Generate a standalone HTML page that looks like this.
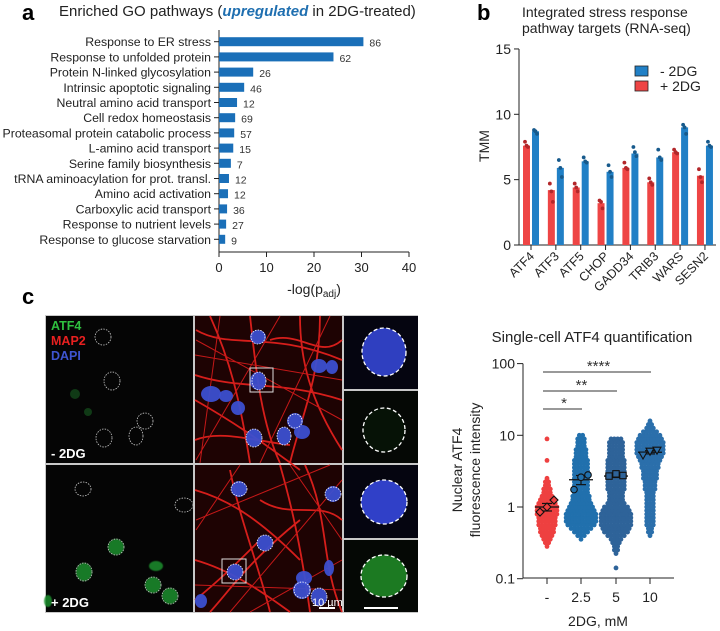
<!DOCTYPE html>
<html><head><meta charset="utf-8"><style>
html,body{margin:0;padding:0;background:#fff}
svg{display:block;font-family:"Liberation Sans",Arial,sans-serif}
</style></head><body>
<svg id="fig" width="720" height="631" viewBox="0 0 720 631" xmlns="http://www.w3.org/2000/svg">
<defs>
<filter id="blur1" x="-20%" y="-20%" width="140%" height="140%"><feGaussianBlur stdDeviation="0.6"/></filter>
</defs>
<text x="22" y="20" font-size="22" font-weight="bold">a</text>
<text x="477" y="20" font-size="22" font-weight="bold">b</text>
<text x="22" y="304" font-size="22" font-weight="bold">c</text>

<text x="59" y="16" font-size="15" fill="#222">Enriched GO pathways (<tspan font-weight="bold" font-style="italic" fill="#1f6fb0">upregulated</tspan> in 2DG-treated)</text>
<g id="panelA"></g>

<text x="522" y="17" font-size="14" fill="#222">Integrated stress response</text>
<text x="522" y="33" font-size="14" fill="#222">pathway targets (RNA-seq)</text>
<g id="panelB"></g>

<g id="micro"></g>

<text x="592" y="342" font-size="15" fill="#222" text-anchor="middle">Single-cell ATF4 quantification</text>
<g id="panelC"></g>
</svg>
<script>
const NS="http://www.w3.org/2000/svg";
function mk(parent,tag,attrs,text){const e=document.createElementNS(NS,tag);for(const k in attrs)e.setAttribute(k,attrs[k]);if(text!==undefined)e.textContent=text;parent.appendChild(e);return e;}

/* ---------- Panel A data ---------- */
const goTerms=["Response to ER stress","Response to unfolded protein","Protein N-linked glycosylation","Intrinsic apoptotic signaling","Neutral amino acid transport","Cell redox homeostasis","Proteasomal protein catabolic process","L-amino acid transport","Serine family biosynthesis","tRNA aminoacylation for prot. transl.","Amino acid activation","Carboxylic acid transport","Response to nutrient levels","Response to glucose starvation"];
const goValues=[30.4,24.1,7.2,5.3,3.8,3.4,3.2,3.0,2.5,2.1,1.9,1.7,1.5,1.3];
const goCounts=[86,62,26,46,12,69,57,15,7,12,12,36,27,9];
const goTicks=[0,10,20,30,40];

/* ---------- Panel B data ---------- */
const isrGenes=["ATF4","ATF3","ATF5","CHOP","GADD34","TRIB3","WARS","SESN2"];
const isrPlus=[7.6,4.2,4.4,3.2,5.9,4.8,7.1,5.3];
const isrMinus=[8.7,5.9,6.4,5.6,7.0,6.7,9.0,7.6];
const isrPlusReps=[[7.9,7.6,7.5],[4.7,4.1,3.3],[4.7,4.4,4.1],[3.4,3.3,2.8],[6.3,5.9,5.8],[5.1,4.8,4.6],[7.3,7.1,7.0],[5.8,5.2,4.8]];
const isrMinusReps=[[8.8,8.7,8.5],[6.5,5.9,5.2],[6.7,6.4,6.3],[6.1,5.6,5.2],[7.5,7.1,6.8],[7.3,6.7,6.5],[9.2,9.0,8.5],[7.9,7.6,7.5]];
const isrTicks=[0,5,10,15];

/* ---------- Panel C data ---------- */
const doseLabels=["-","2.5","5","10"];
const doseMeans=[1.0,2.4,2.7,5.8];
const doseSem=[0.12,0.35,0.12,0.3];
const repValues=[[0.85,1.0,1.25],[1.75,2.6,2.8],[2.7,2.9,2.75],[5.3,6.0,6.2]];
const swarmCounts=[
 [0,0,0,0,0,0,0,0,0,1,2,3,4,5,5,6,6,6,7,7,7,6,5,4,3,3,2,2,1,0,0,0,0,1,0,0,0,0,0,1,0,0,0,0,0],
 [0,0,0,0,0,0,0,0,0,0,0,1,3,5,7,9,10,10,10,9,8,7,6,6,5,5,5,5,5,5,5,5,5,5,4,4,4,3,3,3,2,0,0,0,0],
 [0,0,0,1,0,0,0,1,2,2,3,4,6,8,9,10,10,10,10,9,8,6,5,5,5,6,6,6,6,6,6,6,6,6,5,5,5,5,5,4,0,0,0,0,0],
 [0,0,0,0,0,0,0,0,0,0,0,0,1,2,2,3,3,3,3,3,3,3,3,3,3,4,4,4,5,5,5,6,6,7,8,9,9,9,9,8,7,5,3,2,1]
];
const yTicksC=[0.1,1,10,100];
const sigPairs=[[0,1,"*"],[0,2,"**"],[0,3,"****"]];

/* ---------- Panel A draw ---------- */
(function(){
 const g=document.getElementById('panelA');
 const x0=219, sx=4.75, y0=41.7, step=15.2, bh=9;
 const X=v=>x0+v*sx;
 mk(g,'line',{x1:x0,y1:30,x2:x0,y2:252,stroke:'#222','stroke-width':1});
 mk(g,'line',{x1:x0,y1:252,x2:X(40),y2:252,stroke:'#222','stroke-width':1});
 goTicks.forEach(t=>{
  mk(g,'line',{x1:X(t),y1:252,x2:X(t),y2:257,stroke:'#222'});
  const tl=mk(g,'text',{x:X(t),y:272,'font-size':13,'text-anchor':'middle',fill:'#222'},String(t));
  
  
 });
 const xt=mk(g,'text',{x:X(20),y:294,'font-size':14,'text-anchor':'middle',fill:'#222'});
 xt.innerHTML='-log(p<tspan font-size="10" dy="3">adj</tspan><tspan dy="-3">)</tspan>';
 
 
 goTerms.forEach((t,i)=>{
  const cy=y0+i*step;
  mk(g,'line',{x1:x0-5,y1:cy,x2:x0,y2:cy,stroke:'#222'});
  const lab=mk(g,'text',{x:x0-8,y:cy+4.5,'font-size':12.3,'text-anchor':'end',fill:'#222'},t);
  
  
  const r=mk(g,'rect',{x:x0,y:cy-bh/2,width:goValues[i]*sx,height:bh,fill:'#1a6fb8'});
  
  
  const c=mk(g,'text',{x:X(goValues[i])+6,y:cy+5,'font-size':10.5,fill:'#333'},String(goCounts[i]));
  
  
 });
})();

/* ---------- Panel B draw ---------- */
(function(){
 const g=document.getElementById('panelB');
 const ax=519, yb=245, sy=13.07, c0=531, gs=24.85;
 const Y=v=>yb-v*sy;
 mk(g,'line',{x1:ax,y1:Y(15),x2:ax,y2:yb,stroke:'#222'});
 mk(g,'line',{x1:ax,y1:yb,x2:716,y2:yb,stroke:'#222'});
 isrTicks.forEach(t=>{
  mk(g,'line',{x1:ax-5,y1:Y(t),x2:ax,y2:Y(t),stroke:'#222'});
  const tl=mk(g,'text',{x:ax-8,y:Y(t)+5,'font-size':14,'text-anchor':'end',fill:'#222'},String(t));
  
  
 });
 const yt=mk(g,'text',{x:0,y:0,'font-size':14,'text-anchor':'middle',fill:'#222',transform:'translate(489,146) rotate(-90)'},'TMM');
 
 
 isrGenes.forEach((gn,i)=>{
  const cx=c0+i*gs;
  mk(g,'line',{x1:cx,y1:yb,x2:cx,y2:yb+5,stroke:'#222'});
  const tl=mk(g,'text',{x:0,y:0,'font-size':12.5,'text-anchor':'end',fill:'#222',transform:`translate(${cx+4},${yb+12}) rotate(-45)`},gn);
  
  
  const rb=mk(g,'rect',{x:cx-8,y:Y(isrPlus[i]),width:7,height:isrPlus[i]*sy,fill:'#ee4545'});
  
  
  const bb=mk(g,'rect',{x:cx+1,y:Y(isrMinus[i]),width:7,height:isrMinus[i]*sy,fill:'#2180c6'});
  
  
  isrPlusReps[i].forEach((v,k)=>{const d=mk(g,'circle',{cx:cx-4.5+(k-1)*1.5,cy:Y(v),r:1.9,fill:'#b3272a'});});
  isrMinusReps[i].forEach((v,k)=>{const d=mk(g,'circle',{cx:cx+4.5+(k-1)*1.5,cy:Y(v),r:1.9,fill:'#175a8c'});});
 });
 const l1=mk(g,'rect',{x:635,y:66,width:13,height:10,fill:'#2180c6',stroke:'#222','stroke-width':0.8});
 
 const t1=mk(g,'text',{x:660,y:76,'font-size':14,fill:'#222'},'- 2DG');
 
 const l2=mk(g,'rect',{x:635,y:81,width:13,height:10,fill:'#ee4545',stroke:'#222','stroke-width':0.8});
 
 const t2=mk(g,'text',{x:660,y:91,'font-size':14,fill:'#222'},'+ 2DG');
 
})();

/* ---------- Microscopy ---------- */
(function(){
 const g=document.getElementById('micro');
 mk(g,'rect',{x:45,y:315,width:373,height:298,fill:'#c8c8c8'});
 const panels=[[46,316,147,147,'#050505'],[46,465,147,147,'#050505'],[195,316,147,147,'#1e0303'],[195,465,147,147,'#1e0303'],[344,316,74,73,'#050510'],[344,391,74,72,'#050805'],[344,465,74,73,'#050510'],[344,540,74,72,'#050805']];
 panels.forEach(p=>mk(g,'rect',{x:p[0],y:p[1],width:p[2],height:p[3],fill:p[4]}));
 const neur=[
  "M195,400 C230,420 260,440 300,470 M196,330 C230,350 270,330 342,360 M250,316 C255,360 260,420 280,463 M300,316 C300,360 310,400 342,450 M195,440 C220,430 250,440 290,445 M320,316 C320,380 300,420 290,463 M210,316 C230,360 240,400 250,463 M195,375 C240,390 280,380 342,400 M270,340 C300,330 320,360 342,340",
  "M195,490 C230,500 260,520 300,560 M230,470 C240,520 260,570 270,612 M305,465 C330,520 320,560 342,612 M195,560 C230,570 260,590 290,612 M260,500 C290,520 320,500 342,520 M195,600 C220,580 240,560 260,540 M280,465 C290,500 300,540 310,612 M210,612 C230,590 250,560 300,520"
 ];
 neur.forEach(d=>{const p=mk(g,'path',{d:d,stroke:'#e0201c','stroke-width':1.8,fill:'none',opacity:0.95});});
 mk(g,'path',{d:"M196,340 L342,420 M196,460 L280,316 M230,612 L342,480 M196,520 L330,465 M220,316 L200,463 M330,316 L260,463 M195,355 L342,380 M240,465 L196,530 M342,560 L250,612 M290,465 L342,540 M195,585 L342,590",stroke:'#c41818','stroke-width':1,fill:'none'});
 const nucBlue=[[258,337,8,7],[258,381,8,9],[211,394,10,8],[226,396,7,6],[238,408,7,7],[319,366,8,7],[332,367,6,7],[295,421,8,8],[254,438,8,9],[284,436,7,9],[302,432,8,7],[239,489,8,8],[333,494,8,8],[265,543,8,8],[235,572,8,8],[304,578,8,7],[302,590,9,9],[319,597,8,9],[329,568,5,8],[201,601,6,7]];
 nucBlue.forEach(n=>mk(g,'ellipse',{cx:n[0],cy:n[1],rx:n[2],ry:n[3],fill:'#3c4fd0',opacity:0.95}));
 const dashedMid=[[258,337,7,7],[259,381,7,9],[295,421,7,7],[254,438,8,9],[284,436,7,9],[239,489,8,7],[333,494,8,7],[265,543,8,8],[235,572,8,8],[302,590,8,8],[319,597,8,9]];
 dashedMid.forEach(n=>mk(g,'ellipse',{cx:n[0],cy:n[1],rx:n[2],ry:n[3],fill:'none',stroke:'#fff','stroke-width':0.8,'stroke-dasharray':'1.5 1.2'}));
 mk(g,'rect',{x:250,y:368,width:23,height:24,fill:'none',stroke:'#ddd','stroke-width':1});
 mk(g,'rect',{x:222,y:559,width:24,height:24,fill:'none',stroke:'#ddd','stroke-width':1});
 const dashedLeft=[[103,337,8,8],[112,381,8,9],[145,421,8,8],[104,438,8,9],[136,436,7,9],[83,489,8,7],[184,505,9,7],[116,547,8,8],[84,572,8,9],[153,585,8,8],[170,596,8,8]];
 [[116,547,8,8],[84,572,8,9],[153,585,8,8],[170,596,8,8],[156,566,7,5],[48,601,4,6]].forEach(n=>mk(g,'ellipse',{cx:n[0],cy:n[1],rx:n[2],ry:n[3],fill:'#1f8f2e',filter:'url(#blur1)',opacity:0.85}));
 [[75,394,5,5],[88,412,4,4]].forEach(n=>mk(g,'ellipse',{cx:n[0],cy:n[1],rx:n[2],ry:n[3],fill:'#103a16'}));
 dashedLeft.forEach(n=>mk(g,'ellipse',{cx:n[0],cy:n[1],rx:n[2],ry:n[3],fill:'none',stroke:'#ccc','stroke-width':0.8,'stroke-dasharray':'1.5 1.2'}));
 const a=mk(g,'text',{x:51,y:330,'font-size':12.5,'font-weight':'bold',fill:'#2fbf3f'},'ATF4');
 const m=mk(g,'text',{x:51,y:345,'font-size':12.5,'font-weight':'bold',fill:'#e82020'},'MAP2');
 const dd=mk(g,'text',{x:51,y:360,'font-size':12.5,'font-weight':'bold',fill:'#3e55d0'},'DAPI');
 const c1=mk(g,'text',{x:51,y:458,'font-size':13,'font-weight':'bold',fill:'#fff'},'- 2DG');
 const c2=mk(g,'text',{x:51,y:607,'font-size':13,'font-weight':'bold',fill:'#fff'},'+ 2DG');
 const sb=mk(g,'text',{x:312,y:606,'font-size':11,fill:'#fff'},'10 µm');
 mk(g,'rect',{x:319,y:607,width:16,height:2,fill:'#fff'});
 mk(g,'ellipse',{cx:384,cy:352,rx:22,ry:24,fill:'#2f3fc0'});
 mk(g,'ellipse',{cx:384,cy:352,rx:22,ry:24,fill:'none',stroke:'#fff','stroke-width':1.3,'stroke-dasharray':'4 2.5'});
 mk(g,'ellipse',{cx:384,cy:430,rx:21,ry:22,fill:'#061206'});
 mk(g,'ellipse',{cx:384,cy:430,rx:21,ry:22,fill:'none',stroke:'#fff','stroke-width':1.3,'stroke-dasharray':'4 2.5'});
 mk(g,'ellipse',{cx:384,cy:502,rx:23,ry:22,fill:'#3040c8'});
 mk(g,'ellipse',{cx:384,cy:502,rx:23,ry:22,fill:'none',stroke:'#fff','stroke-width':1.3,'stroke-dasharray':'4 2.5'});
 mk(g,'ellipse',{cx:384,cy:576,rx:23,ry:21,fill:'#1e7a24',filter:'url(#blur1)'});
 mk(g,'ellipse',{cx:384,cy:576,rx:23,ry:21,fill:'none',stroke:'#fff','stroke-width':1.3,'stroke-dasharray':'4 2.5'});
 mk(g,'rect',{x:364,y:607,width:34,height:2,fill:'#fff'});
})();

/* ---------- Panel C draw ---------- */
(function(){
 const g=document.getElementById('panelC');
 const ax=523, xr=674, yx=578;
 const Y=v=>507-Math.log10(v)*71.7;
 const xs=[547,581,616,650];
 mk(g,'line',{x1:ax,y1:Y(100),x2:ax,y2:yx,stroke:'#222'});
 mk(g,'line',{x1:ax,y1:yx,x2:xr,y2:yx,stroke:'#222'});
 yTicksC.forEach(t=>{
  mk(g,'line',{x1:ax-6,y1:Y(t),x2:ax,y2:Y(t),stroke:'#222'});
  const tl=mk(g,'text',{x:ax-8,y:Y(t)+5,'font-size':14,'text-anchor':'end',fill:'#222'},String(t));
  
  
 });
 const y1=mk(g,'text',{x:0,y:0,'font-size':14,'text-anchor':'middle',fill:'#222',transform:'translate(462,470) rotate(-90)'},'Nuclear ATF4');
 
 const y2=mk(g,'text',{x:0,y:0,'font-size':14,'text-anchor':'middle',fill:'#222',transform:'translate(480,470) rotate(-90)'},'fluorescence intensity');
 
 doseLabels.forEach((l,i)=>{
  mk(g,'line',{x1:xs[i],y1:yx,x2:xs[i],y2:yx+6,stroke:'#222'});
  const tl=mk(g,'text',{x:xs[i],y:602,'font-size':14,'text-anchor':'middle',fill:'#222'},l);
  
  
 });
 const xt=mk(g,'text',{x:598,y:626,'font-size':14,'text-anchor':'middle',fill:'#222'},'2DG, mM');
 
 const cols=['#ee4040','#2170ad','#2e6399','#2b6fab'];
 swarmCounts.forEach((arr,gi)=>{
  arr.forEach((n,bi)=>{
   const v=Math.pow(10,-1+0.05*bi);
   for(let k=0;k<n;k++){
    const d=mk(g,'circle',{cx:xs[gi]+(k-(n-1)/2)*3.3,cy:Y(v),r:2.4,fill:cols[gi]});
    
    
   }
  });
 });
 doseMeans.forEach((m,i)=>{
  const ml=mk(g,'line',{x1:xs[i]-12,y1:Y(m),x2:xs[i]+12,y2:Y(m),stroke:'#111','stroke-width':1.3});
  
  mk(g,'line',{x1:xs[i],y1:Y(m+doseSem[i]),x2:xs[i],y2:Y(m-doseSem[i]),stroke:'#111','stroke-width':1.2});
  mk(g,'line',{x1:xs[i]-5,y1:Y(m+doseSem[i]),x2:xs[i]+5,y2:Y(m+doseSem[i]),stroke:'#111','stroke-width':1.2});
  mk(g,'line',{x1:xs[i]-5,y1:Y(m-doseSem[i]),x2:xs[i]+5,y2:Y(m-doseSem[i]),stroke:'#111','stroke-width':1.2});
  repValues[i].forEach((v,k)=>{
   const cx=xs[i]+(k-1)*7, cy=Y(v); let e;
   const st={stroke:'#111','stroke-width':1.1,fill:cols[i]};
   if(i===0) e=mk(g,'polygon',Object.assign({points:`${cx},${cy-4} ${cx+4},${cy} ${cx},${cy+4} ${cx-4},${cy}`},st));
   else if(i===1) e=mk(g,'circle',Object.assign({cx:cx,cy:cy,r:3.3},st));
   else if(i===2) e=mk(g,'rect',Object.assign({x:cx-3.2,y:cy-3.2,width:6.4,height:6.4},st));
   else e=mk(g,'polygon',Object.assign({points:`${cx-4},${cy-3} ${cx+4},${cy-3} ${cx},${cy+4}`},st));
   
   
  });
 });
 const sigY=[409,391,372];
 sigPairs.forEach((p,i)=>{
  const l=mk(g,'line',{x1:xs[p[0]]-4,y1:sigY[i],x2:xs[p[1]]+1,y2:sigY[i],stroke:'#333','stroke-width':1});
  
  const t=mk(g,'text',{x:(xs[p[0]]+xs[p[1]])/2,y:sigY[i]-1,'font-size':15,'text-anchor':'middle',fill:'#333'},p[2]);
  
 });
})();
</script>
</body></html>
